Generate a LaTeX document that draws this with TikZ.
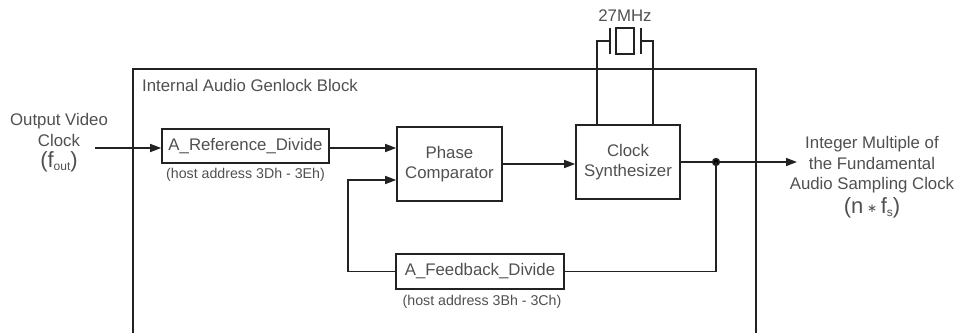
\documentclass[tikz,border=0pt]{standalone}
\usepackage{fontspec}
\setmainfont{Liberation Sans}
\newfontfamily\dejavu{DejaVu Sans}
\usetikzlibrary{arrows.meta,calc}
\definecolor{txt}{HTML}{505050}
\definecolor{ln}{HTML}{222222}
\tikzset{
  ln/.style={draw=ln,line width=1.6pt},
  arr/.style={ln,-{Triangle[length=11pt,width=8pt]}},
  blk/.style={ln,rectangle,inner sep=0pt,text=txt,font=\fontsize{16.8}{20.5}\selectfont,align=center},
  lbl/.style={inner sep=0pt,text=txt,font=\fontsize{16.8}{20.5}\selectfont,align=center},
  small/.style={inner sep=0pt,text=txt,font=\fontsize{14.2}{16}\selectfont},
}
\begin{document}
\begin{tikzpicture}[x=1pt,y=-1pt]
\useasboundingbox[fill=white] (0,0) rectangle (969,332);
% outer block
\draw[ln] (133,340) -- (133,69) -- (756,69) -- (756,340);
\node[lbl,anchor=west] (title) at (142,85) {Internal Audio Genlock Block};
% blocks
\node[blk,minimum width=167pt,minimum height=34pt] (ref) at (245.5,146) {A\_Reference\_Divide};
\node[small] (refaddr) at (245.5,175) {(host address 3Dh - 3Eh)};
\node[blk,minimum width=105pt,minimum height=74pt] (pc) at (449.5,164) {Phase\\Comparator};
\node[blk,minimum width=104pt,minimum height=74pt] (cs) at (628,162) {Clock\\Synthesizer};
\node[blk,minimum width=168pt,minimum height=35pt] (fb) at (480,271.5) {A\_Feedback\_Divide};
\node[small] (fbaddr) at (482,302) {(host address 3Bh - 3Ch)};
% input
\node[lbl] (in) at (59,143) {Output Video\\Clock\\[1pt]{\fontsize{22}{22}\selectfont(f{\fontsize{12}{12}\selectfont\raisebox{-3pt}{out}})}};
\coordinate (instart) at (95,148);
\draw[arr] (instart) -- (instart -| ref.west);
% ref -> pc
\coordinate (pcA) at ([yshift=16pt]pc.west);
\coordinate (pcB) at ([yshift=-16pt]pc.west);
\draw[arr] (pcA -| ref.east) -- (pcA);
% pc -> cs
\draw[arr] (pc.east) -- (pc.east -| cs.west);
% output
\coordinate (dot) at (716,162);
\coordinate (outend) at (797,162);
\draw[arr] (cs.east |- dot) -- (outend);
\fill[ln] (dot) circle (3.3pt);
\node[lbl] (out) at (872,177) {Integer Multiple of\\the Fundamental\\Audio Sampling Clock\\[3pt]{\fontsize{22}{22}\selectfont(n\,{\dejavu\fontsize{12}{12}\selectfont\raisebox{1pt}{∗}}\,f{\fontsize{12}{12}\selectfont\raisebox{-3pt}{s}})}};
% feedback
\draw[ln] (dot) |- (fb.east);
\coordinate (fbl) at (348,271.5);
\draw[ln] (fb.west) -- (fbl);
\draw[arr] (fbl) |- (pcB);
% crystal
\coordinate (xl) at (597,41);
\coordinate (xr) at (653,41);
\draw[ln] (cs.north -| xl) -- (xl) -- (610,41);
\draw[ln] (610,28) -- (610,54);
\draw[ln] (616,28) rectangle (634,54);
\draw[ln] (641,28) -- (641,54);
\draw[ln] (641,41) -- (xr) -- (cs.north -| xr);
\node[lbl] (mhz) at (625,16) {27MHz};
\end{tikzpicture}
\end{document}
